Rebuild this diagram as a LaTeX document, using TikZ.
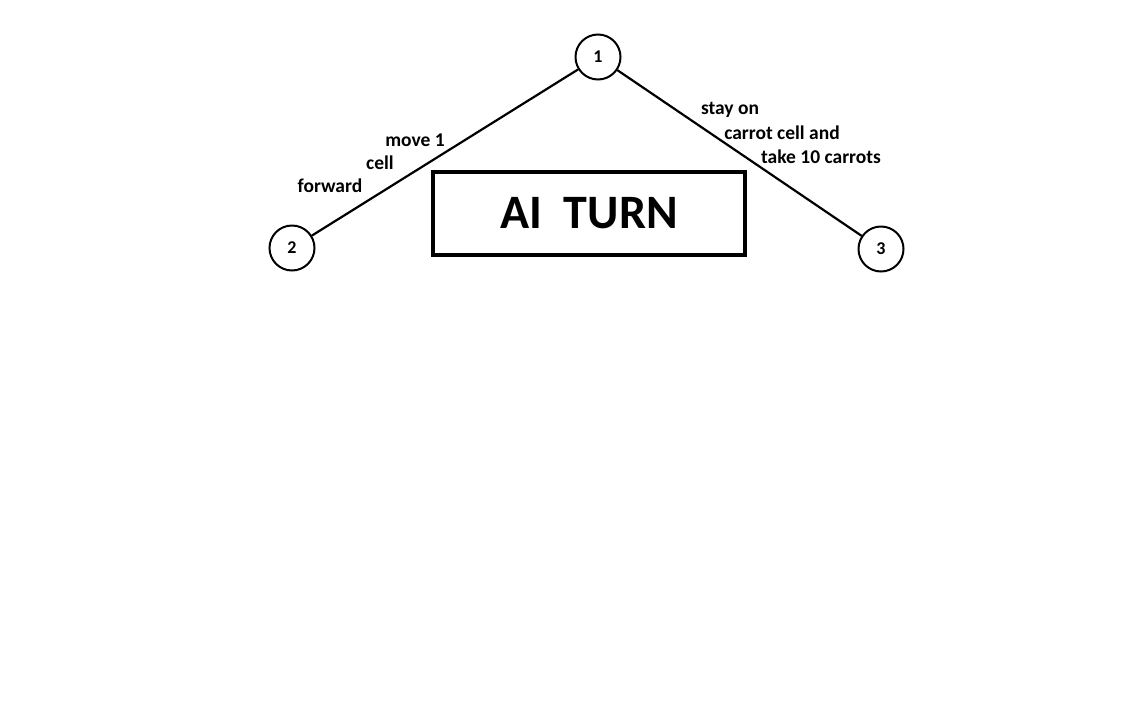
\documentclass[tikz,border=0pt]{standalone}
\usepackage{fontspec}
\setmainfont{Carlito}
\usepackage{tikz}
\usetikzlibrary{shapes}
\tikzset{ state_node/.style = {circle, draw, line width=2pt, minimum size=45pt, inner sep=0pt, font=\bfseries\fontsize{18}{20}\selectfont} }
\tikzset{ turn_box/.style = {rectangle, draw, line width=4pt, minimum width=312pt, minimum height=83pt, font=\bfseries\fontsize{48}{54}\selectfont} }
\tikzset{ move_label/.style = {inner sep=0pt, font=\bfseries\fontsize{19.5}{22}\selectfont} }
\tikzset{ branch_line/.style = {line width=2.2pt} }

\begin{document}
\begin{tikzpicture}[x=1pt, y=-1pt]
    \useasboundingbox (0,0) rectangle (1137,726);
    \node[state_node] (S1) at (598,57) {1};
    \node[state_node] (S2) at (292,248) {2};
    \node[state_node] (S3) at (881,249) {3};
    \node[turn_box] (T) at (589,213.5) {AI\ \ TURN};
    \draw[branch_line] (S1) -- (S2);
    \draw[branch_line] (S1) -- (S3);
    % left branch
    \node[move_label] (L1) at (415,140) {move 1};
    \node[move_label] (L2) at (380,163) {cell};
    \node[move_label] (L3) at (330,186) {forward};
    % right branch
    \node[move_label] (R1) at (730,110) {stay on};
    \node[move_label] (R2) at (782,133) {carrot cell and};
    \node[move_label] (R3) at (821,157) {take 10 carrots};
\end{tikzpicture}
\end{document}
